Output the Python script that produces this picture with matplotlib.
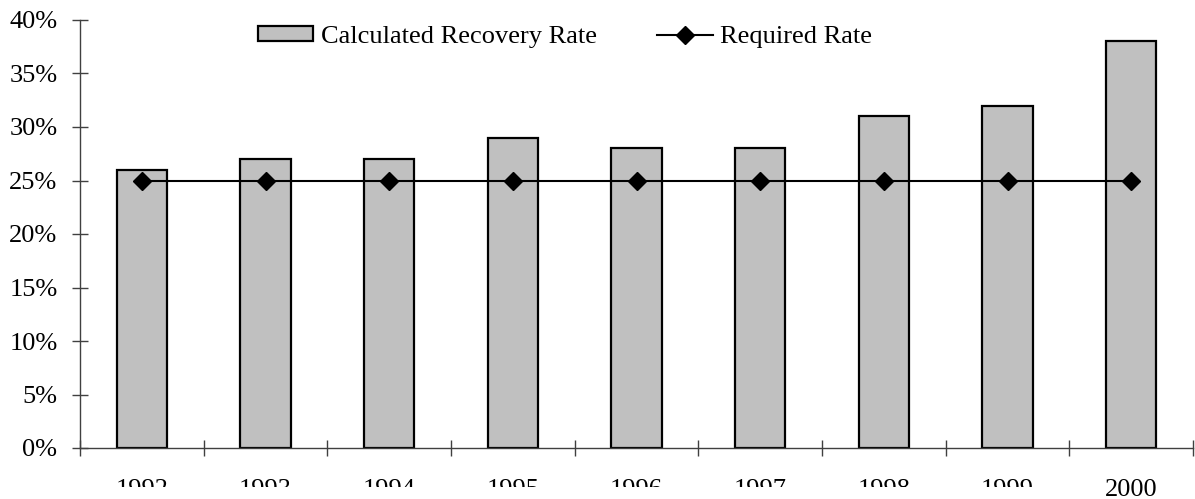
import matplotlib
matplotlib.use("Agg")
import matplotlib.pyplot as plt
import numpy as np
from matplotlib.transforms import Bbox, TransformedBbox
from matplotlib.ticker import FuncFormatter, FixedLocator

plt.rcParams['font.family'] = ['Liberation Serif', 'DejaVu Serif']

years = ['1992', '1993', '1994', '1995', '1996', '1997', '1998', '1999', '2000']
calculated = [26, 27, 27, 29, 28, 28, 31, 32, 38]
required = [25, 25, 25, 25, 25, 25, 25, 25, 25]

fig = plt.figure(figsize=(11.95, 4.99), dpi=100)
ax = fig.add_axes([80/1195, 1-448/499, (1193-80)/1195, (448-20)/499])

x = np.arange(len(years))
bars = ax.bar(x, calculated, width=0.405, color='#c0c0c0', edgecolor='black',
              linewidth=1.6, label='Calculated Recovery Rate', zorder=2)
line, = ax.plot(x, required, color='black', linewidth=1.5, marker='D',
                markersize=9, label='Required Rate', zorder=3)

ax.set_xlim(-0.5, len(years) - 0.5)
ax.set_ylim(0, 40)

for s in ['top', 'right']:
    ax.spines[s].set_visible(False)
for s in ['left', 'bottom']:
    ax.spines[s].set_color('#404040')
    ax.spines[s].set_linewidth(1.0)

ax.yaxis.set_major_locator(FixedLocator(np.arange(0, 41, 5)))
ax.yaxis.set_major_formatter(FuncFormatter(lambda v, p: f"{v:.0f}%"))
ax.tick_params(axis='y', direction='inout', length=11.5, width=1.0,
               color='#404040', labelsize=19, pad=10.5)

ax.set_xticks(np.arange(-0.5, len(years), 1.0))
ax.set_xticklabels([])
ax.set_xticks(x, minor=True)
ax.set_xticklabels(years, minor=True)
ax.tick_params(axis='x', which='major', direction='inout', length=12,
               width=1.0, color='#404040')
ax.tick_params(axis='x', which='minor', length=0, labelsize=19, pad=22.5)

# Clip the lower labels as in the reference (all but the last one)
clip = TransformedBbox(Bbox([[0, 1-487/499], [1, 1]]), fig.transFigure)
for lbl in ax.xaxis.get_minorticklabels()[:-1]:
    lbl.set_clip_box(clip)
    lbl.set_clip_on(True)

leg = ax.legend([bars, line], ['Calculated Recovery Rate', 'Required Rate'],
                loc='center', bbox_to_anchor=(565/1195, 1-37/499),
                bbox_transform=fig.transFigure, ncol=2, frameon=False,
                fontsize=19, handlelength=2.1, handleheight=0.5,
                handletextpad=0.28, columnspacing=2.3, borderpad=0,
                borderaxespad=0)

fig.savefig('out.png', dpi=100)
